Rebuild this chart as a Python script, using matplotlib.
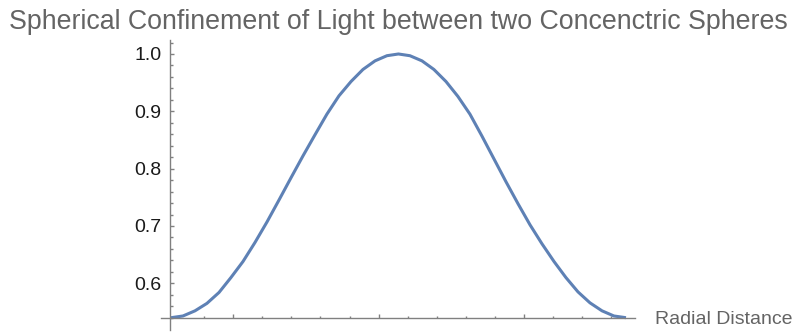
import numpy as np
import matplotlib
matplotlib.use("Agg")
import matplotlib.pyplot as plt
from matplotlib.ticker import MultipleLocator, NullFormatter

# values (radial distance, intensity)
radial = [0.572, 0.654, 0.737, 0.819, 0.902, 0.984, 1.067, 1.149, 1.232, 1.314,
          1.397, 1.479, 1.562, 1.644, 1.727, 1.810, 1.892, 1.975, 2.057, 2.136,
          2.215, 2.298, 2.380, 2.463, 2.545, 2.628, 2.710, 2.793, 2.876, 2.958,
          3.041, 3.123, 3.206, 3.288, 3.371, 3.453, 3.536, 3.618, 3.701]
intensity = [0.540, 0.543, 0.552, 0.565, 0.584, 0.610, 0.638, 0.671, 0.707, 0.745,
             0.784, 0.822, 0.859, 0.895, 0.927, 0.952, 0.973, 0.988, 0.997, 1.000,
             0.997, 0.988, 0.973, 0.952, 0.926, 0.895, 0.857, 0.817, 0.777, 0.739,
             0.702, 0.669, 0.638, 0.610, 0.585, 0.566, 0.552, 0.543, 0.540]
yticks = [0.6, 0.7, 0.8, 0.9, 1.0]

title = "Spherical Confinement of Light between two Concenctric Spheres"
xlabel = "Radial Distance"

plt.rcParams['font.family'] = ['Liberation Sans', 'DejaVu Sans']

W, H = 809, 333
fig = plt.figure(figsize=(W / 100, H / 100), dpi=100)
ax = fig.add_axes([170 / W, 1 - 317.7 / H, 465 / W, (317.7 - 40) / H])

ax.plot(radial, intensity, color='#5E81B5', lw=2.2, solid_joinstyle='round',
        solid_capstyle='butt', clip_on=False)

ax.set_xlim(0.565, 3.763)
ax.set_ylim(0.54, 1.0244)

axcol = '#808080'
for s in ['top', 'right']:
    ax.spines[s].set_visible(False)
for s in ['left', 'bottom']:
    ax.spines[s].set_color(axcol)
    ax.spines[s].set_linewidth(1.0)
ax.spines['left'].set_bounds(0.5185, 1.0244)
ax.spines['bottom'].set_bounds(0.50, 3.763)

ax.xaxis.set_major_locator(MultipleLocator(1.0))
ax.xaxis.set_minor_locator(MultipleLocator(0.2))
ax.xaxis.set_major_formatter(NullFormatter())
ax.set_yticks(yticks)
ax.set_yticklabels([f"{v:.1f}" for v in yticks])
ax.yaxis.set_minor_locator(MultipleLocator(0.02))

ax.tick_params(which='both', direction='in', color=axcol, width=1.0)
ax.tick_params(which='major', length=3.0)
ax.tick_params(which='minor', length=1.8)
ax.tick_params(axis='y', which='major', labelsize=14, labelcolor='#1a1a1a', pad=6)

fig.text(398 / W, 1 - 29.3 / H, title, ha='center', va='baseline',
         fontsize=19.3, color='#646464')
fig.text(655 / W, 1 - 324.3 / H, xlabel, ha='left', va='baseline',
         fontsize=14, color='#646464')

fig.savefig("out.png", dpi=100)
